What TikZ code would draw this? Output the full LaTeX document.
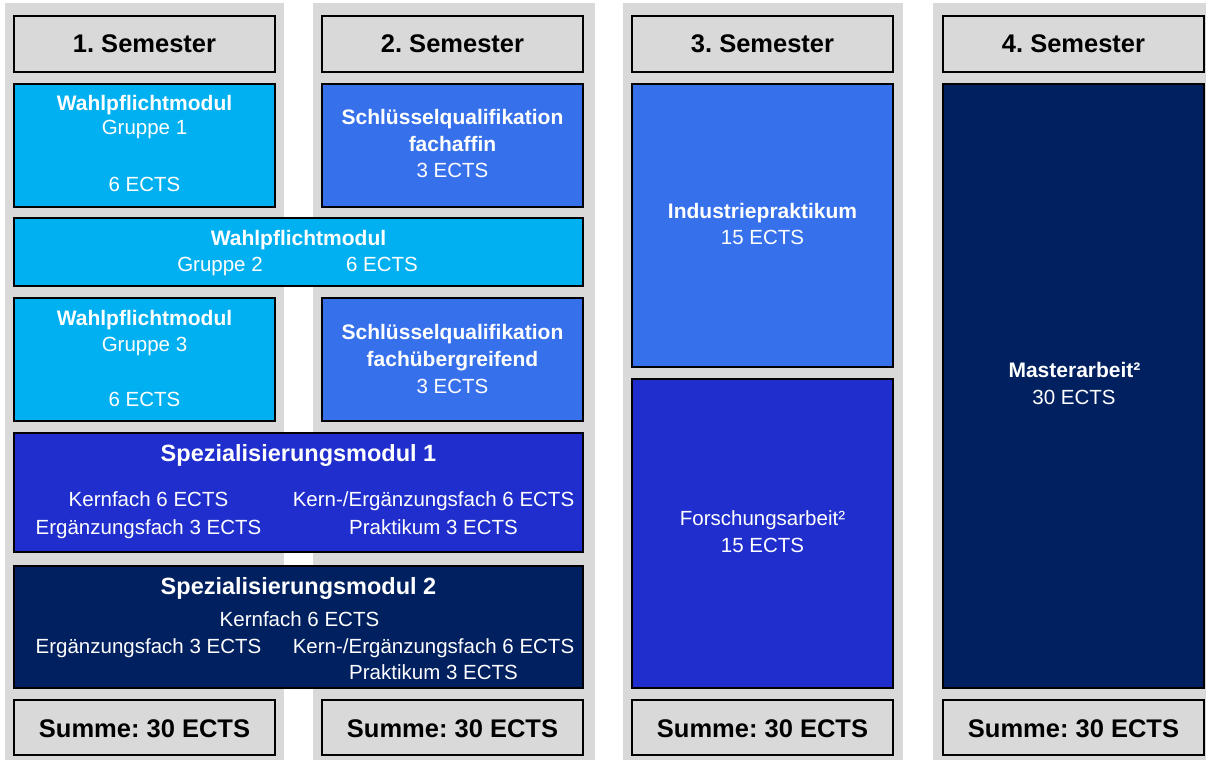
\documentclass[tikz,border=0pt]{standalone}
\usepackage{fontspec}
\setmainfont{Liberation Sans}
\usetikzlibrary{fit}

\definecolor{stripgray}{HTML}{D9D9D9}
\definecolor{wpcyan}{HTML}{00B0F0}
\definecolor{sqblue}{HTML}{3670EB}
\definecolor{spblue}{HTML}{1F2ECC}
\definecolor{navy}{HTML}{002060}

\newcommand{\hdrfont}{\bfseries\fontsize{25.5}{30}\selectfont}
\newcommand{\ttlfont}{\bfseries\fontsize{21}{25}\selectfont}
\newcommand{\spfont}{\bfseries\fontsize{23.5}{28}\selectfont}
\newcommand{\regfont}{\fontsize{20.5}{24}\selectfont}

\tikzset{
  strip/.style={fill=stripgray, draw=none, inner sep=0pt, outer sep=0pt},
  box/.style={draw=black, line width=2.2pt, inner sep=0pt, outer sep=0pt},
  graybox/.style={box, fill=stripgray},
  wpbox/.style={box, fill=wpcyan},
  sqbox/.style={box, fill=sqblue},
  spbox/.style={box, fill=spblue},
  navybox/.style={box, fill=navy},
  hdr/.style={anchor=base, inner sep=0pt, text=black, font=\hdrfont},
  ttl/.style={anchor=base, inner sep=0pt, text=white, font=\ttlfont},
  sptl/.style={anchor=base, inner sep=0pt, text=white, font=\spfont},
  reg/.style={anchor=base, inner sep=0pt, text=white, font=\regfont},
}

\begin{document}
\frenchspacing
\begin{tikzpicture}[x=1pt, y=-1pt]
\useasboundingbox (0,0) rectangle (1206,762);

% semester columns
\node[strip, fit={(5,3) (284,760)}] (c1) {};
\node[strip, fit={(313,3) (595,760)}] (c2) {};
\node[strip, fit={(623,3) (903,760)}] (c3) {};
\node[strip, fit={(933,3) (1206,760)}] (c4) {};

% headers
\node[graybox, fit={(14,16) (275,72)}] (h1) {};
\node[graybox, fit={(322,16) (583,72)}] (h2) {};
\node[graybox, fit={(632,16) (893,72)}] (h3) {};
\node[graybox, fit={(943,16) (1204,72)}] (h4) {};
\node[hdr] (h1t) at (144.5,53) {1. Semester};
\node[hdr] (h2t) at (452.5,53) {2. Semester};
\node[hdr] (h3t) at (762.5,53) {3. Semester};
\node[hdr] (h4t) at (1073.5,53) {4. Semester};

% sums
\node[graybox, fit={(14,700) (275,755)}] (s1) {};
\node[graybox, fit={(322,700) (583,755)}] (s2) {};
\node[graybox, fit={(632,700) (893,755)}] (s3) {};
\node[graybox, fit={(943,700) (1204,755)}] (s4) {};
\node[hdr] (s1t) at (144.5,737) {Summe: 30 ECTS};
\node[hdr] (s2t) at (452.5,737) {Summe: 30 ECTS};
\node[hdr] (s3t) at (762.5,737) {Summe: 30 ECTS};
\node[hdr] (s4t) at (1073.5,737) {Summe: 30 ECTS};

% Wahlpflichtmodul Gruppe 1
\node[wpbox, fit={(14,84) (275,207)}] (wp1) {};
\node[ttl] (wp1a) at (144.5,110.5) {Wahlpflichtmodul};
\node[reg] (wp1b) at (144.5,135) {Gruppe 1};
\node[reg] (wp1c) at (144.5,191) {6 ECTS};

% Schluesselqualifikation fachaffin
\node[sqbox, fit={(322,84) (583,207)}] (sq1) {};
\node[ttl] (sq1a) at (452.5,124.5) {Schlüsselqualifikation};
\node[ttl] (sq1b) at (452.5,151.5) {fachaffin};
\node[reg] (sq1c) at (452.5,178) {3 ECTS};

% Wahlpflichtmodul Gruppe 2
\node[wpbox, fit={(14,218) (583,286)}] (wp2) {};
\node[ttl] (wp2a) at (298.5,245.5) {Wahlpflichtmodul};
\node[reg] (wp2b) at (220,271) {Gruppe 2};
\node[reg] (wp2c) at (382,271) {6 ECTS};

% Wahlpflichtmodul Gruppe 3
\node[wpbox, fit={(14,298) (275,421)}] (wp3) {};
\node[ttl] (wp3a) at (144.5,325.5) {Wahlpflichtmodul};
\node[reg] (wp3b) at (144.5,351) {Gruppe 3};
\node[reg] (wp3c) at (144.5,406) {6 ECTS};

% Schluesselqualifikation fachuebergreifend
\node[sqbox, fit={(322,298) (583,421)}] (sq2) {};
\node[ttl] (sq2a) at (452.5,339.5) {Schlüsselqualifikation};
\node[ttl] (sq2b) at (452.5,366.5) {fachübergreifend};
\node[reg] (sq2c) at (452.5,393) {3 ECTS};

% Spezialisierungsmodul 1
\node[spbox, fit={(14,433) (583,552)}] (sp1) {};
\node[sptl] (sp1a) at (298.5,461.4) {Spezialisierungsmodul 1};
\node[reg] (sp1b) at (148.5,506) {Kernfach 6 ECTS};
\node[reg] (sp1c) at (148.5,534) {Ergänzungsfach 3 ECTS};
\node[reg] (sp1d) at (433.5,506) {Kern-/Ergänzungsfach 6 ECTS};
\node[reg] (sp1e) at (433.5,534) {Praktikum 3 ECTS};

% Spezialisierungsmodul 2
\node[navybox, fit={(14,566) (583,688)}] (sp2) {};
\node[sptl] (sp2a) at (298.5,594.4) {Spezialisierungsmodul 2};
\node[reg] (sp2b) at (299.5,626) {Kernfach 6 ECTS};
\node[reg] (sp2c) at (148.5,653) {Ergänzungsfach 3 ECTS};
\node[reg] (sp2d) at (433.5,653) {Kern-/Ergänzungsfach 6 ECTS};
\node[reg] (sp2e) at (433.5,679) {Praktikum 3 ECTS};

% 3. Semester
\node[sqbox, fit={(632,84) (893,367)}] (ip) {};
\node[ttl] (ipa) at (762.5,218.5) {Industriepraktikum};
\node[reg] (ipb) at (762.5,244) {15 ECTS};
\node[spbox, fit={(632,379) (893,688)}] (fa) {};
\node[reg] (faa) at (762.5,525) {Forschungsarbeit²};
\node[reg] (fab) at (762.5,552) {15 ECTS};

% 4. Semester
\node[navybox, fit={(943,84) (1204,688)}] (ma) {};
\node[ttl] (maa) at (1074.5,377.5) {Masterarbeit²};
\node[reg] (mab) at (1074,404) {30 ECTS};
\end{tikzpicture}
\end{document}
